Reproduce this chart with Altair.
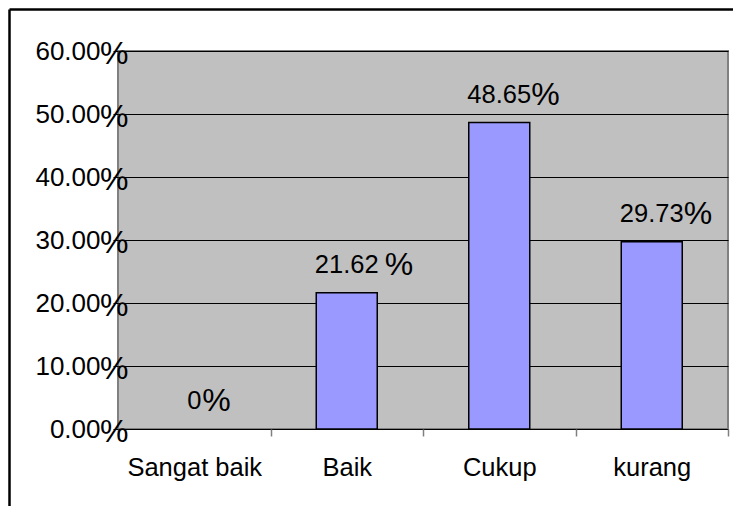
import altair as alt
import pandas as pd

categories = ["Sangat baik", "Baik", "Cukup", "kurang"]
values = [0, 21.62, 48.65, 29.73]
value_labels = ["0%", "21.62 %", "48.65%", "29.73%"]
y_ticks = [0, 10, 20, 30, 40, 50, 60]

FONT = "Liberation Sans"
W, H = 610, 378
PL, PT = 118, 51

df = pd.DataFrame({"cat": categories, "value": values, "label": value_labels})
ticks_df = pd.DataFrame({"v": y_ticks})

x_enc = alt.X(
    "cat:N",
    sort=categories,
    title=None,
    scale=alt.Scale(paddingInner=0, paddingOuter=0),
    axis=alt.Axis(
        labelAngle=0,
        labelFont=FONT,
        labelFontSize=25.5,
        labelColor="black",
        labelBaseline="alphabetic",
        labelPadding=39,
        tickBand="extent",
        tickColor="#808080",
        tickSize=7,
        tickWidth=1.5,
        domain=False,
        grid=False,
    ),
)

y_scale = alt.Scale(domain=[0, 60], nice=False)
y_enc = alt.Y(
    "value:Q",
    title=None,
    scale=y_scale,
    axis=alt.Axis(
        values=y_ticks,
        labelExpr="format(datum.value, '.2f')",
        labelFont=FONT,
        labelFontSize=26,
        labelColor="black",
        labelBaseline="alphabetic",
        labelOffset=8,
        labelPadding=13,
        tickColor="black",
        tickSize=5,
        domain=False,
        grid=True,
        gridColor="black",
        gridWidth=1,
        gridOpacity=1,
    ),
)

bars = alt.Chart(df).mark_bar(
    size=61, color="#9999FF", stroke="black", strokeWidth=1.5
).encode(
    x=x_enc,
    y=y_enc,
    strokeOpacity=alt.condition("datum.value > 0", alt.value(1), alt.value(0)),
)

base = alt.Chart(df).transform_calculate(
    digits="trim(split(datum.label, '%')[0])",
    spaced="indexof(datum.label, ' %') >= 0 ? 1 : 0",
)

digits = base.mark_text(
    font=FONT, fontSize=25.5, align="center", baseline="alphabetic", dy=-20, color="black"
).encode(
    x=alt.X("cat:N", sort=categories),
    y=alt.Y("value:Q", scale=y_scale),
    text="digits:N",
)

def pct_layer(cond, dx):
    return base.transform_filter(cond).mark_text(
        font=FONT, fontSize=32, align="left", baseline="alphabetic", dx=dx, dy=-18, color="black"
    ).encode(
        x=alt.X("cat:N", sort=categories),
        y=alt.Y("value:Q", scale=y_scale),
        text=alt.value("%"),
    )

pct_short = pct_layer("length(datum.digits) < 3", 8)
pct_long = pct_layer("length(datum.digits) >= 3 && datum.spaced == 0", 32)
pct_spaced = pct_layer("length(datum.digits) >= 3 && datum.spaced == 1", 38)

y_pct = alt.Chart(ticks_df).mark_text(
    font=FONT, fontSize=32, align="left", baseline="alphabetic", dy=13, color="black"
).encode(
    x=alt.value(-18),
    y=alt.Y("v:Q", scale=y_scale),
    text=alt.value("%"),
)

one = alt.Data(values=[{"a": 0}])
left_border = alt.Chart(one).mark_rule(color="black", strokeWidth=2.5).encode(
    x=alt.value(9.5 - PL), y=alt.value(9.5 - PT), y2=alt.value(506 - PT)
)
top_border = alt.Chart(one).mark_rule(color="black", strokeWidth=2.5).encode(
    x=alt.value(9.5 - PL), x2=alt.value(733 - PL), y=alt.value(9.5 - PT)
)

chart = alt.layer(
    bars, digits, pct_short, pct_long, pct_spaced, y_pct, left_border, top_border
).properties(
    width=W,
    height=H,
    padding={"left": PL, "top": PT, "right": 733 - PL - W, "bottom": 506 - PT - H},
    autosize=alt.AutoSizeParams(type="none"),
    background="white",
).configure_view(
    fill="#C0C0C0", stroke="#808080", strokeWidth=2
)

chart.save("out.html", embed_options={"renderer": "svg", "actions": False})
